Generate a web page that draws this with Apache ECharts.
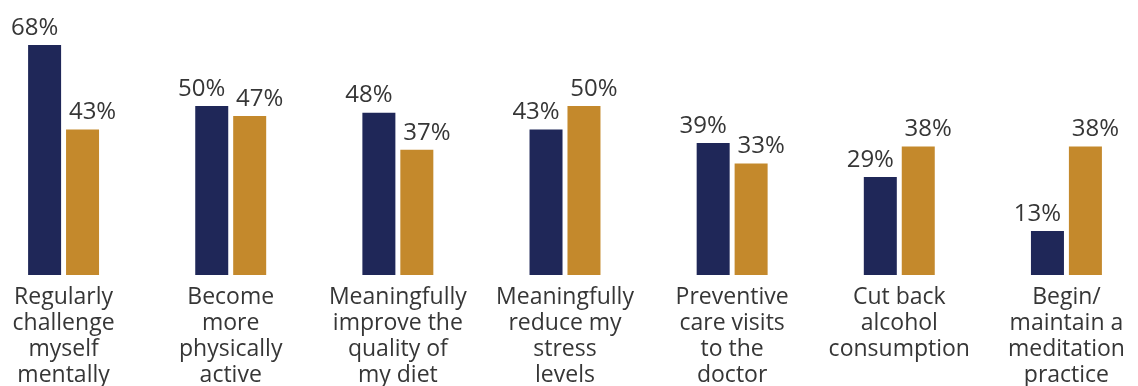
<!DOCTYPE html>
<html>
<head>
<meta charset="utf-8">
<script src="https://cdn.jsdelivr.net/npm/echarts@6/dist/echarts.min.js"></script>
<style>
  html, body { margin: 0; padding: 0; background: #ffffff; overflow: hidden; width: 1138px; height: 386px; }
  /* the plot runs slightly past both page edges, so the chart box is wider than the page */
  #chart { position: absolute; left: -20px; top: 0; width: 1170px; height: 386px; }
</style>
</head>
<body>
<div id="chart"></div>
<script>
// Health goals: two survey groups per category (percent)
const categories = [
  'Regularly\nchallenge\nmyself\nmentally',
  'Become\nmore\nphysically\nactive',
  'Meaningfully\nimprove the\nquality of\nmy diet',
  'Meaningfully\nreduce my\nstress\nlevels',
  'Preventive\ncare visits\nto the\ndoctor',
  'Cut back\nalcohol\nconsumption',
  'Begin/\nmaintain a\nmeditation\npractice'
];
const navyValues = [68, 50, 48, 43, 39, 29, 13];
const goldValues = [43, 47, 37, 50, 33, 38, 38];

const FONT = '"Open Sans", Lato, sans-serif';
const TEXT = '#363636';

const chart = echarts.init(document.getElementById('chart'), null, { renderer: 'canvas' });

function valueLabel(dx) {
  return {
    show: true,
    position: 'top',
    distance: 5,
    offset: [dx, 0],
    formatter: p => p.value + '%',
    color: TEXT,
    fontFamily: FONT,
    fontSize: 24
  };
}

chart.setOption({
  animation: false,
  backgroundColor: '#ffffff',
  grid: { left: 0, right: 0, top: 45, bottom: 111, containLabel: false, outerBoundsMode: 'none' },
  xAxis: {
    type: 'category',
    data: categories,
    axisLine: { show: false },
    axisTick: { show: false },
    axisLabel: {
      interval: 0,
      margin: 9,
      color: TEXT,
      fontFamily: FONT,
      fontSize: 23,
      lineHeight: 26,
      align: 'center'
    }
  },
  yAxis: {
    type: 'value',
    min: 0,
    max: 68,
    show: false,
    splitLine: { show: false }
  },
  series: [
    {
      type: 'bar',
      data: navyValues,
      barWidth: 33,
      barGap: '15%',
      itemStyle: { color: '#1f2758' },
      label: valueLabel(-10)
    },
    {
      type: 'bar',
      data: goldValues,
      barWidth: 33,
      itemStyle: { color: '#c4892c' },
      label: valueLabel(10)
    }
  ]
});
</script>
</body>
</html>
